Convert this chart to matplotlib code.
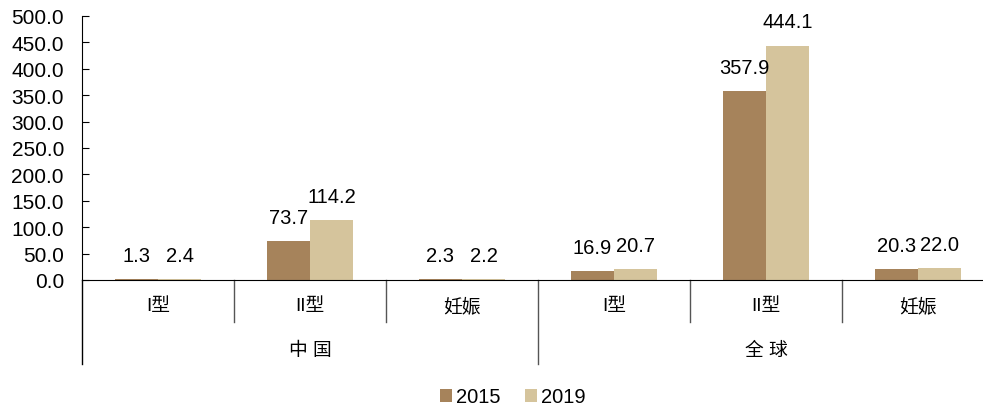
import matplotlib.pyplot as plt
import matplotlib.transforms as mtransforms
import numpy as np

plt.rcParams['font.family'] = ['Liberation Sans', 'Noto Sans CJK SC', 'DejaVu Sans']

types = ['I型', 'II型', '妊娠', 'I型', 'II型', '妊娠']
regions = ['中 国', '全 球']
v2015 = [1.3, 73.7, 2.3, 16.9, 357.9, 20.3]
v2019 = [2.4, 114.2, 2.2, 20.7, 444.1, 22.0]

c2015 = '#A6835B'
c2019 = '#D5C49C'

fig = plt.figure(figsize=(9.83, 4.06), dpi=100)
ax = fig.add_axes([82 / 983, 125 / 406, 912 / 983, 264 / 406])

x = np.arange(len(types))
w = 0.283
b1 = ax.bar(x - w / 2, v2015, w, color=c2015, label='2015')
b2 = ax.bar(x + w / 2, v2019, w, color=c2019, label='2019')

for bars, vals in ((b1, v2015), (b2, v2019)):
    for r, v in zip(bars, vals):
        ax.annotate(f'{v:.1f}', (r.get_x() + r.get_width() / 2, v),
                    xytext=(0, 17), textcoords='offset points',
                    ha='center', va='center', fontsize=14.5)

ax.set_xlim(-0.5, len(types) - 0.5)
ax.set_ylim(0, 500)
ax.set_yticks(np.arange(0, 501, 50))
ax.set_yticklabels([f'{t:.1f}' for t in np.arange(0, 501, 50)])
ax.tick_params(axis='y', direction='in', length=5, pad=13, labelsize=15)
ax.set_xticks([])
for s in ('top', 'right'):
    ax.spines[s].set_visible(False)
ax.spines['left'].set_bounds(0, 500)

# two-level category axis drawn below the plot
tr = mtransforms.blended_transform_factory(ax.transData, ax.transAxes)
row1 = -42 / 264
row2 = -84 / 264
ax.plot([-0.5, -0.5], [0, row2], color='black', lw=1, transform=tr, clip_on=False)
for xi in [0.5, 1.5, 3.5, 4.5]:
    ax.plot([xi, xi], [0, row1], color='#555555', lw=1, transform=tr, clip_on=False)
ax.plot([2.5, 2.5], [0, row2], color='#555555', lw=1, transform=tr, clip_on=False)
for xi, t in zip(x, types):
    ax.text(xi, -26 / 264, t, transform=tr, ha='center', va='center', fontsize=13.5)
for i, r in enumerate(regions):
    ax.text(3 * i + 1, -70 / 264, r, transform=tr, ha='center', va='center', fontsize=13.5)

fig.legend(loc='center', bbox_to_anchor=(513 / 983, 1 - 398 / 406), ncol=2,
           frameon=False, handlelength=0.6, handleheight=0.6, handletextpad=0.2,
           columnspacing=1.2, fontsize=14.5)

fig.savefig('out.png', dpi=100)
